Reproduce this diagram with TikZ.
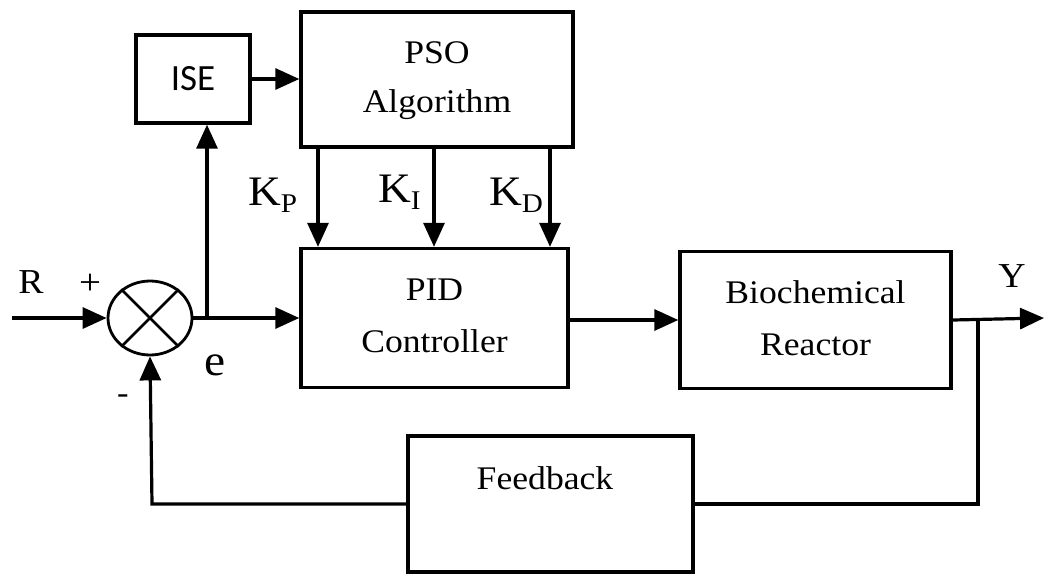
\documentclass[tikz,border=0pt]{standalone}
\usepackage{fontspec}
\setmainfont[FakeStretch=1.08]{Liberation Serif}
\newfontfamily\isefont{Carlito}
\usetikzlibrary{arrows.meta,shapes.geometric}
\begin{document}
\begin{tikzpicture}[x=1pt,y=1pt,
  blk/.style={draw,line width=3.4pt,rectangle,inner sep=0pt},
  conn/.style={line width=3.2pt},
  arr/.style={line width=3.2pt,-{Triangle[length=24pt,width=21pt]}},
  txt/.style={inner sep=0pt,anchor=base,font=\fontsize{33}{38}\selectfont},
  klab/.style={inner sep=0pt,anchor=base west,font=\fontsize{42}{48}\selectfont}]
\useasboundingbox (0,0) rectangle (1044,-574);
% blocks
\node[blk,minimum width=114pt,minimum height=88pt] (ise) at (193,-79) {};
\node[blk,minimum width=272pt,minimum height=135pt] (pso) at (437,-79.5) {};
\node[blk,minimum width=267pt,minimum height=139pt] (pid) at (434.5,-318) {};
\node[blk,minimum width=271pt,minimum height=137pt] (bio) at (815.5,-320) {};
\node[blk,minimum width=285pt,minimum height=136pt] (fb) at (550.5,-504) {};
\node[draw,ellipse,line width=2.8pt,minimum width=84pt,minimum height=74pt,inner sep=0pt] (sum) at (150,-318) {};
\draw[line width=2.6pt] (sum.45) -- (sum.225) (sum.135) -- (sum.315);
% texts
\node[txt] (tpso) at (437,-63) {PSO};
\node[txt] (talg) at (437,-112) {Algorithm};
\node[txt] (tpid) at (434.5,-300) {PID};
\node[txt] (tcon) at (434.5,-352) {Controller};
\node[txt] (tbio) at (815.5,-303) {Biochemical};
\node[txt] (trea) at (815.5,-355) {Reactor};
\node[txt] (tfb) at (545,-489) {Feedback};
\node[inner sep=0pt,anchor=base,font=\isefont\fontsize{37}{40}\selectfont] (tise) at (193,-90) {ISE};
\node[txt,font=\fontsize{35}{40}\selectfont] (tr) at (31,-293) {R};
\node[txt,font=\fontsize{36}{40}\selectfont] (tplus) at (90,-294) {+};
\node[txt,font=\fontsize{44}{48}\selectfont] (te) at (215,-375) {e};
\node[txt,font=\fontsize{32}{36}\selectfont] (tminus) at (123,-403) {-};
\node[txt,font=\fontsize{35}{40}\selectfont] (ty) at (1012,-287) {Y};
\node[klab] (kp) at (248,-205) {K\raisebox{-7pt}{\fontsize{27}{28}\selectfont P}};
\node[klab] (ki) at (378,-202) {K\raisebox{-7pt}{\fontsize{27}{28}\selectfont I}};
\node[klab] (kd) at (489,-205) {K\raisebox{-7pt}{\fontsize{27}{28}\selectfont D}};
% connectors
\coordinate (rin) at (12,-318);
\coordinate (eb) at (207,-318);
\coordinate (yb) at (978,-318);
\coordinate (yout) at (1044,-318);
\coordinate (fbl) at (152,-504);
\coordinate (fbr) at (978,-504);
\draw[arr] (rin) -- (sum.west);
\draw[arr] (sum.east) -- (pid.west);
\draw[arr] (eb) -- (eb |- ise.south);
\draw[arr] (ise.east) -- (pso.west |- ise.east);
\coordinate (p1) at (318,-147);
\coordinate (p2) at (434,-147);
\coordinate (p3) at (550,-147);
\draw[arr] (p1) -- (p1 |- pid.north);
\draw[arr] (p2) -- (p2 |- pid.north);
\draw[arr] (p3) -- (p3 |- pid.north);
\draw[arr] (pid.east |- bio.west) -- (bio.west);
\draw[arr] (bio.east) -- (yout);
\draw[conn] (yb) -- (fbr) -- (fb.east);
\draw[arr] (fb.west) -- (fbl) -- (sum.south);
\end{tikzpicture}
\end{document}
